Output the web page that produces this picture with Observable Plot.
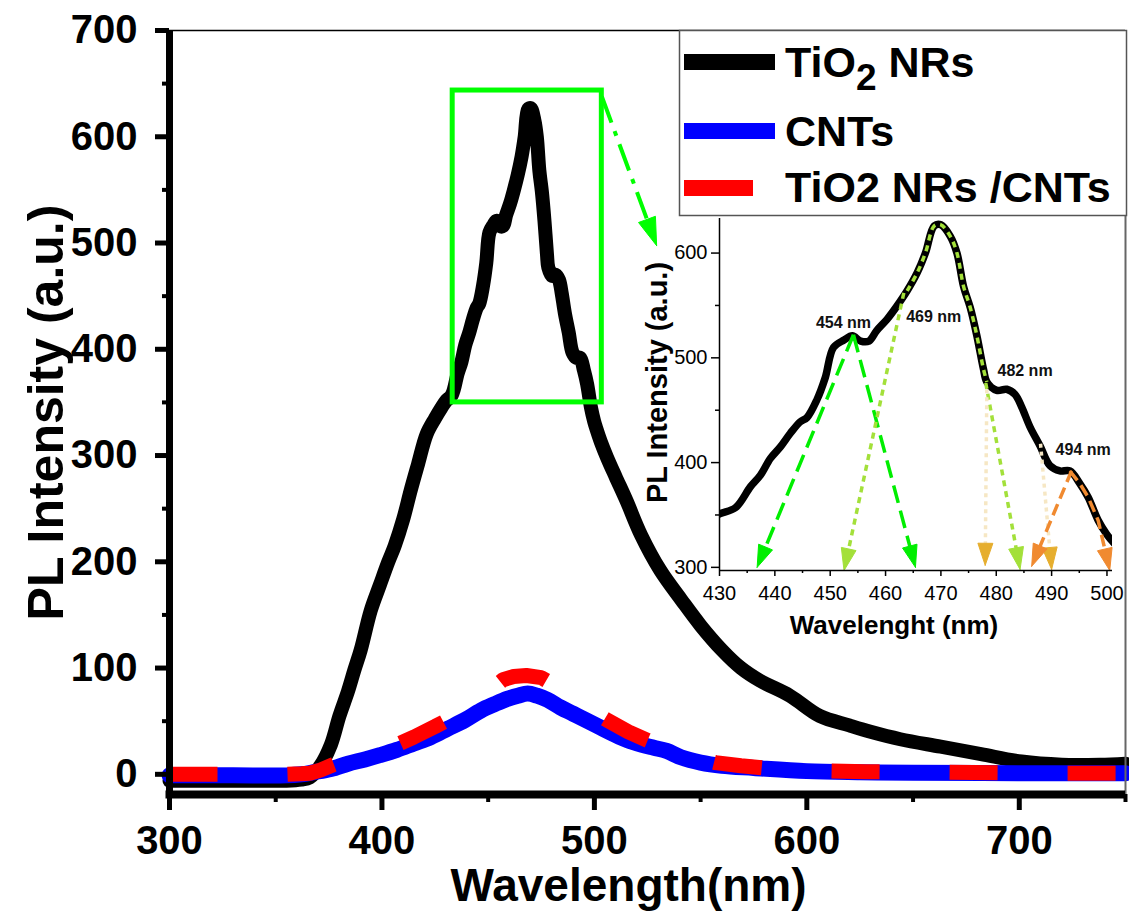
<!DOCTYPE html>
<html><head><meta charset="utf-8">
<script src="https://cdn.jsdelivr.net/npm/d3@7"></script>
<script src="https://cdn.jsdelivr.net/npm/@observablehq/plot@0.6"></script>
<style>
html,body{margin:0;padding:0;background:#fff;}
#wrap{position:relative;width:1129px;height:922px;overflow:hidden;font-family:"Liberation Sans",Arial,sans-serif;}
#wrap > svg, #wrap > figure{position:absolute;margin:0;}
</style></head><body><div id="wrap"></div>
<script>
// ---------- data ----------
const seriesNames = ["TiO2 NRs", "CNTs", "TiO2 NRs /CNTs"];
const seriesColors = ["#000000", "#0000ff", "#ff0000"];

const wlTiO2 = [300,320,340,355,362,366,371,376,380,384,387,390,394.7,399,403,406,410,413.5,417,421,425,428,
  430,432.9,435.6,437.4,439.2,441,442.8,444.6,445.8,447.6,449.1,450.6,452.5,454,455.5,457,458.4,460.3,462,463.9,465.7,467.2,468.8,470,471.7,472.9,474.1,475.3,476.5,477.7,478.3,480.1,481.9,483.4,484.6,486.1,487.9,489.7,491.5,493.3,495.1,496.6,498.4,499.9,500.8,
  503,506,510,515,522,531,541,550,560,569,578,592,606,620,630,644,663,682,701,720,738,750];
const plTiO2 = [-6,-6,-6,-6,-5,-3,8,28,55,78,98,117,154,178,200,215,240,267,292,320,335,345,
  351,357,377,388,404,415,428,439,443,460,481,510,517,521,516,516,526,537,549,564,581,600,626,627,616,600,568,548,521,489,477,469,470,465,453,434,416,397,392,392,380,367,345,332,326,
  313,298,280,258,225,192,164,140,117,100,88,74,55,46,40,33,26,19,12,9,9,10];

const wlCNT = [300,330,355,362,368,376,384,392,399,407,415,423,431,439,446.5,453,459,464,468.6,473,478,484,490,496,503,509,515.7,522,528,534,540.7,550,560,575,600,625,650,700,750];
const plCNT = [-1,-1,-1,0,2,5,10,14,18,23,29,35,43,51,60,66,71,74,76,74,70,63,57,51,44,38,32,28,25,22,16,11,8,6,3,2,1.5,1,1];

const wlComp = [300,330,355,362,366,371,377,385,395,405,415,425,435,442,450,457,462,468,475,481,488,496,506,516,525,535,545,557,569,585,601,628,660,690,720,750];
const plComp = [0,0,0,0.5,1,4,9,15,20,26,35,45,55.5,64,78,89,92,93,91,84,74,63,51,40,32,24,17,11,8,5,3.5,2.5,2,1.5,1,1];

const xMajor = [300,400,500,600,700];
const xMinor = [350,450,550,650,750];
const yMajor = [0,100,200,300,400,500,600,700];
const yMinor = [50,150,250,350,450,550,650];

// zoom box and pointer arrow (main chart data units)
const boxX = [433.3, 503.5];
const boxY = [350, 643.5];
const mainArrowX = [503.5, 529.3];
const mainArrowY = [638, 497.5];

// inset
const insetXMajor = [430,440,450,460,470,480,490,500];
const insetXMinor = [435,445,455,465,475,485,495];
const insetYMajor = [300,400,500,600];
const insetYMinor = [350,450,550];
const peakLabels = ["454 nm","469 nm","482 nm","494 nm"];
const peakLabelX = [452.4, 468.7, 485.2, 495.7];
const peakLabelY = [533, 539, 488, 412];

const arrowX1 = [454.2, 454.2, 463.3, 478.1, 478.3, 488.0, 493.6];
const arrowY1 = [522, 522, 562, 476, 470, 418, 392];
const arrowX2 = [436.8, 465.4, 452.5, 484.3, 478.0, 490.0, 486.4];
const arrowY2 = [300, 300, 297, 298, 302, 298, 301];
const arrowLine = ["#00ee00","#00ee00","#a3e03a","#a3e03a","#f6e7c4","#f6e7c4","#f08a30"];
const arrowHead = ["#00ee00","#00ee00","#a3e03a","#a3e03a","#e6ae2e","#e6ae2e","#f08a30"];
const arrowDash = ["18,8","18,8","6,5","6,5","4,4","4,4","12,6"];
const orangeTip = [500.5, 297];

// ---------- helpers ----------
function head(x1,y1,x2,y2,kx,ky,len,hw){
  const dx=(x2-x1)*kx, dy=-(y2-y1)*ky, d=Math.hypot(dx,dy);
  const ux=dx/d, uy=dy/d;
  const toD=(px,py)=>[x2+px/kx, y2-py/ky];
  const bx=-ux*len, by=-uy*len, nx=-uy*hw, ny=ux*hw;
  return {base: toD(bx*0.8,by*0.8), pts:[toD(0,0), toD(bx+nx,by+ny), toD(bx-nx,by-ny), toD(0,0)]};
}
const tbl = (xs, ys) => xs.map((x,i)=>({x, y: ys[i]}));

const wrap = document.getElementById("wrap");

// ---------- main chart ----------
const W = 1129, H = 922, mL = 169, mR = 4, mT = 30, mB = 128;
const xDom = [300, 750], yDom = [-19, 700];
const kx = (W-mL-mR)/(xDom[1]-xDom[0]), ky = (H-mT-mB)/(yDom[1]-yDom[0]);
const mh = head(mainArrowX[0], mainArrowY[0], mainArrowX[1], mainArrowY[1], kx, ky, 28, 9);

const main = Plot.plot({
  width: W, height: H, marginLeft: mL, marginRight: mR, marginTop: mT, marginBottom: mB,
  x: {domain: xDom, label: null}, y: {domain: yDom, label: null},
  style: {fontFamily: "Liberation Sans, Arial, sans-serif", fontWeight: "bold", background: "transparent", overflow: "visible"},
  marks: [
    Plot.line(tbl(wlTiO2, plTiO2), {x: "x", y: "y", stroke: seriesColors[0], strokeWidth: 14, curve: "catmull-rom", strokeLinejoin: "round"}),
    Plot.line(tbl(wlCNT, plCNT), {x: "x", y: "y", stroke: seriesColors[1], strokeWidth: 16, curve: "catmull-rom"}),
    Plot.line(tbl(wlComp, plComp), {x: "x", y: "y", stroke: seriesColors[2], strokeWidth: 15, strokeDasharray: "48,70", strokeLinecap: "butt", strokeLinejoin: "miter", curve: "linear"}),
    Plot.rect([0], {x1: () => boxX[0], x2: () => boxX[1], y1: () => boxY[0], y2: () => boxY[1], fill: "none", stroke: "#00ff00", strokeWidth: 5}),
    Plot.line([[mainArrowX[0], mainArrowY[0]], mh.base], {x: d=>d[0], y: d=>d[1], stroke: "#00ff00", strokeWidth: 4, strokeDasharray: "28,9,5,9", strokeLinecap: "butt"}),
    Plot.line(mh.pts, {x: d=>d[0], y: d=>d[1], fill: "#00ff00", stroke: "#00ff00", strokeWidth: 1}),
    // frame
    Plot.ruleY([yDom[1]], {stroke: "#000", strokeWidth: 1.5}),
    Plot.ruleX([xDom[1]], {stroke: "#666", strokeWidth: 2}),
    Plot.ruleX([xDom[0]], {stroke: "#000", strokeWidth: 7}),
    Plot.ruleY([yDom[0]], {stroke: "#000", strokeWidth: 8, insetLeft: -3.5}),
    // axes
    Plot.axisX({ticks: xMajor, tickSize: 16, tickPadding: 15, strokeWidth: 5, fontSize: 40, fontWeight: "bold", label: null, tickFormat: d => String(d)}),
    Plot.axisX({ticks: xMinor, tickSize: 8, strokeWidth: 4, label: null, tickFormat: () => ""}),
    Plot.axisY({ticks: yMajor, tickSize: 14, tickPadding: 18, strokeWidth: 5, fontSize: 40, fontWeight: "bold", label: null, tickFormat: d => String(d)}),
    Plot.axisY({ticks: yMinor, tickSize: 7, strokeWidth: 4, label: null, tickFormat: () => ""}),
    Plot.text(["Wavelength(nm)"], {frameAnchor: "bottom", textAnchor: "middle", dx: -19, dy: 92, fontSize: 46, fontWeight: "bold", lineAnchor: "middle"}),
    Plot.text(["PL Intensity (a.u.)"], {frameAnchor: "left", textAnchor: "middle", dx: -123, dy: 0, rotate: -90, fontSize: 50, fontWeight: "bold", lineAnchor: "middle"})
  ]
});
main.style.left = "0px"; main.style.top = "0px";
wrap.appendChild(main);

// ---------- inset ----------
const iW = 480, iH = 445, iL = 79, iR = 8, iT = 18, iB = 75;
const ixDom = [430, 501], iyDom = [297, 633];
const ikx = (iW-iL-iR)/(ixDom[1]-ixDom[0]), iky = (iH-iT-iB)/(iyDom[1]-iyDom[0]);
const insetData = tbl(wlTiO2, plTiO2).filter(d => d.x >= 425 && d.x <= 506);
const greenOverlay = insetData.filter(d => d.x >= 463.5 && d.x <= 478.5);
const orangeOverlay = insetData.filter(d => d.x >= 493 && d.x <= 498.5);
const lastO = orangeOverlay[orangeOverlay.length-1];
const oh = head(lastO.x, lastO.y, orangeTip[0], orangeTip[1], ikx, iky, 22, 7.5);

const arrowMarks = [];
arrowX1.forEach((x1, i) => {
  const h = head(x1, arrowY1[i], arrowX2[i], arrowY2[i], ikx, iky, 22, 7.5);
  arrowMarks.push(Plot.line([[x1, arrowY1[i]], h.base], {x: d=>d[0], y: d=>d[1], stroke: arrowLine[i], strokeWidth: 3.5, strokeDasharray: arrowDash[i], strokeLinecap: "butt"}));
  arrowMarks.push(Plot.line(h.pts, {x: d=>d[0], y: d=>d[1], fill: arrowHead[i], stroke: arrowHead[i], strokeWidth: 1}));
});

const inset = Plot.plot({
  width: iW, height: iH, marginLeft: iL, marginRight: iR, marginTop: iT, marginBottom: iB,
  x: {domain: ixDom, label: null}, y: {domain: iyDom, label: null},
  style: {fontFamily: "Liberation Sans, Arial, sans-serif", background: "transparent", overflow: "visible"},
  marks: [
    Plot.line(insetData, {x: "x", y: "y", stroke: "#000", strokeWidth: 7.5, curve: "catmull-rom", clip: true}),
    Plot.line(greenOverlay, {x: "x", y: "y", stroke: "#a3e03a", strokeWidth: 3.5, strokeDasharray: "6,5", strokeLinecap: "butt", curve: "catmull-rom"}),
    Plot.line([...orangeOverlay.map(d=>[d.x,d.y]), oh.base], {x: d=>d[0], y: d=>d[1], stroke: "#f08a30", strokeWidth: 3.5, strokeDasharray: "12,6", strokeLinecap: "butt"}),
    Plot.line(oh.pts, {x: d=>d[0], y: d=>d[1], fill: "#f08a30", stroke: "#f08a30", strokeWidth: 1}),
    ...arrowMarks,
    Plot.text(peakLabels, {x: (d,i) => peakLabelX[i], y: (d,i) => peakLabelY[i], text: d => d, fontSize: 16, fontWeight: "bold", fill: "#111"}),
    Plot.ruleX([ixDom[0]], {stroke: "#000", strokeWidth: 1.5}),
    Plot.ruleY([iyDom[0]], {stroke: "#000", strokeWidth: 1.5}),
    Plot.axisX({ticks: insetXMajor, tickSize: 6, tickPadding: 9, strokeWidth: 1.5, fontSize: 20, label: null, tickFormat: d => String(d)}),
    Plot.axisX({ticks: insetXMinor, tickSize: 3, strokeWidth: 1.5, label: null, tickFormat: () => ""}),
    Plot.axisY({ticks: insetYMajor, tickSize: 8, tickPadding: 4, strokeWidth: 1.5, fontSize: 20, label: null, tickFormat: d => String(d)}),
    Plot.axisY({ticks: insetYMinor, tickSize: 4, strokeWidth: 1.5, label: null, tickFormat: () => ""}),
    Plot.text(["Wavelenght (nm)"], {frameAnchor: "bottom", textAnchor: "middle", dx: -22, dy: 55, fontSize: 26, fontWeight: "bold", lineAnchor: "middle"}),
    Plot.text(["PL Intensity (a.u.)"], {frameAnchor: "left", textAnchor: "middle", dx: -62, dy: -12, rotate: -90, fontSize: 29, fontWeight: "bold", lineAnchor: "middle"})
  ]
});
inset.style.left = "640px"; inset.style.top = "200px";
wrap.appendChild(inset);

// ---------- legend ----------
const leg = d3.select(wrap).append("svg").attr("width", W).attr("height", H)
  .style("left", "0px").style("top", "0px").style("pointer-events", "none")
  .style("font-family", "Liberation Sans, Arial, sans-serif").style("font-weight", "bold");
leg.append("rect").attr("x", 679.5).attr("y", 30.5).attr("width", 447).attr("height", 185)
  .attr("fill", "#fff").attr("stroke", "#555").attr("stroke-width", 1.5);
const swY = [62, 131, 188], swW = [91, 91, 69], txtY = [77, 146, 202];
seriesNames.forEach((name, i) => {
  leg.append("rect").attr("x", 684).attr("y", swY[i]-8).attr("width", swW[i]).attr("height", 16).attr("fill", seriesColors[i]);
  const t = leg.append("text").attr("x", 785).attr("y", txtY[i]).attr("font-size", 43).attr("fill", "#000");
  if (i === 0) {
    t.append("tspan").text("TiO");
    t.append("tspan").attr("font-size", 37).attr("dy", 12.5).text("2");
    t.append("tspan").attr("dy", -12.5).text(" NRs");
  } else {
    t.text(name);
  }
});
</script></body></html>
